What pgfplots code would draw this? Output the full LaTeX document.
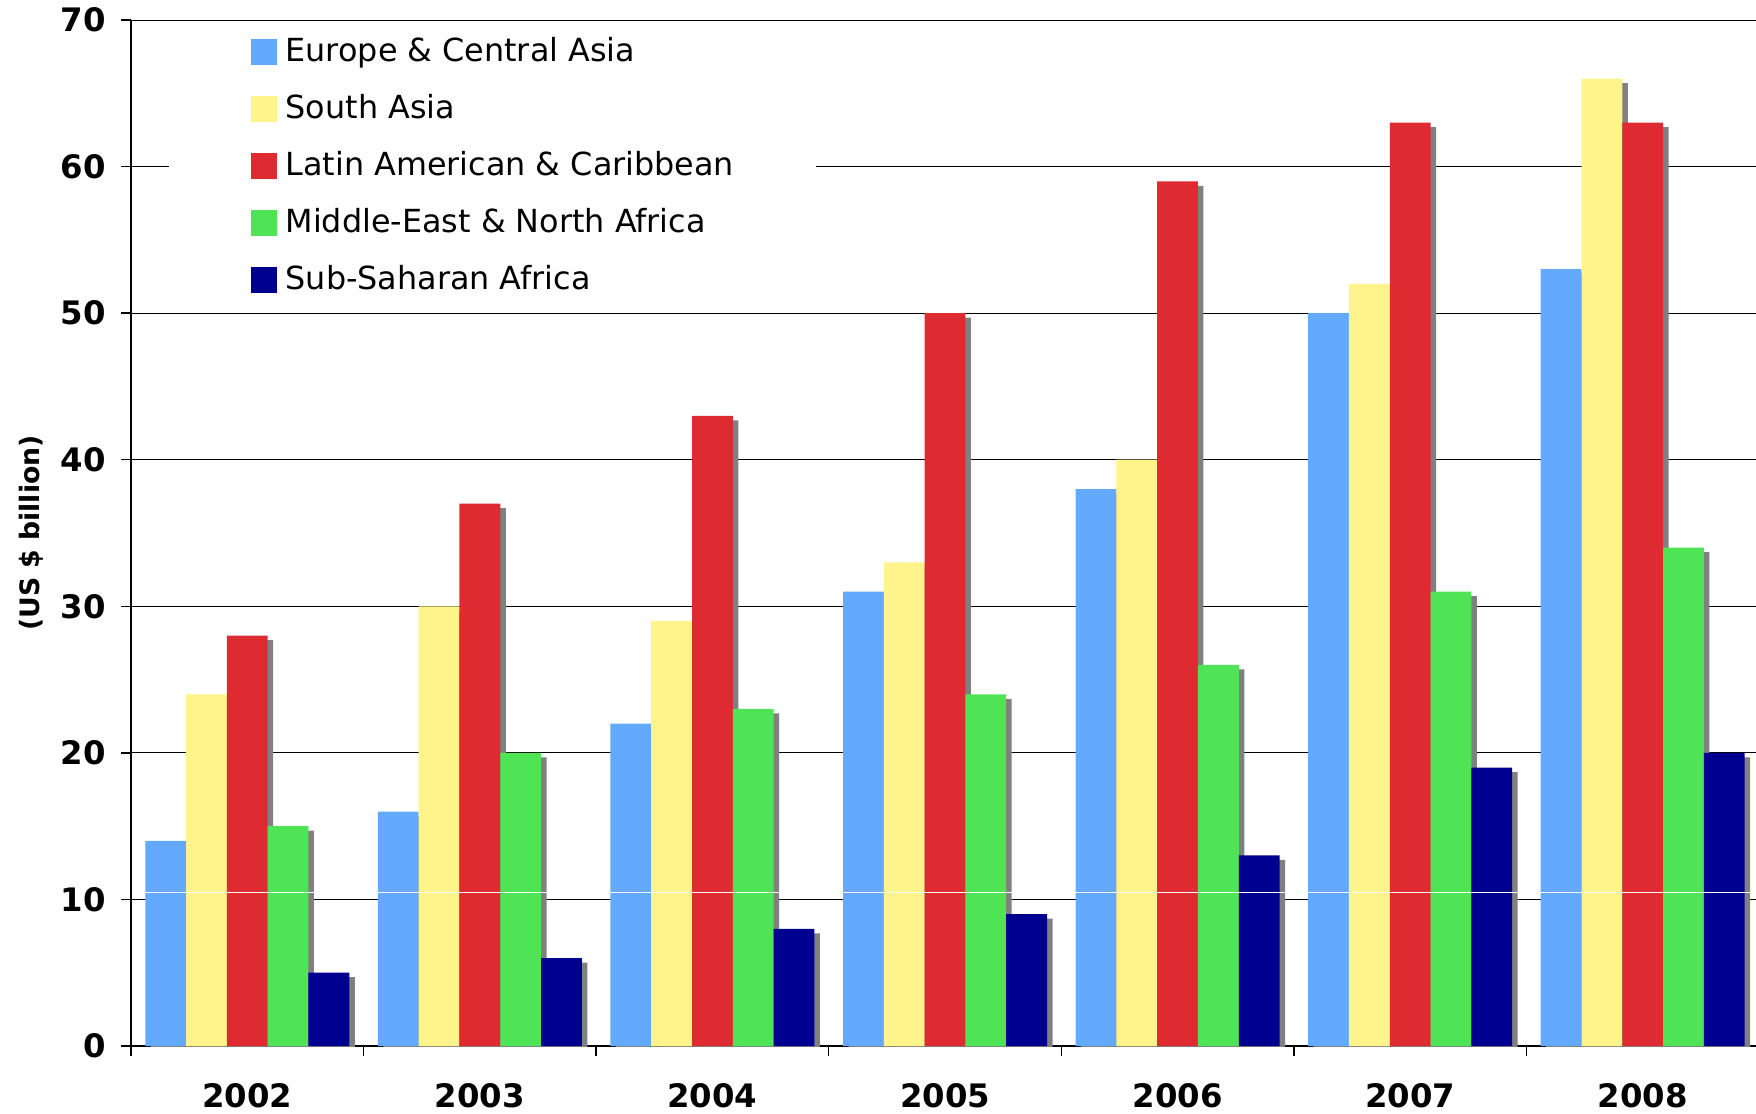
\documentclass[border=0pt]{standalone}
\usepackage{fontspec}
\setmainfont{DejaVu Sans}
\usepackage{pgfplots}
\pgfplotsset{compat=1.18}
\usepackage{pgfplotstable}

\definecolor{euca}{RGB}{99,170,255}
\definecolor{sasia}{RGB}{255,244,140}
\definecolor{latam}{RGB}{222,43,50}
\definecolor{mena}{RGB}{79,227,86}
\definecolor{ssa}{RGB}{0,0,144}
\definecolor{shade}{RGB}{128,128,128}

% US $ billion, by region
\pgfplotstableread{
x eca sa lac mena ssa
0 14 24 28 15 5
1 16 30 37 20 6
2 22 29 43 23 8
3 31 33 50 24 9
4 38 40 59 26 13
5 50 52 63 31 19
6 53 66 63 34 20
}\regions

\pgfplotsset{
  sqlegend/.style={legend image code/.code={\fill[##1] (0mm,-1.3mm) rectangle (2.6mm,1.3mm);}},
  regbar/.style 2 args={ybar, bar width=4.08mm, bar shift=#1, fill=#2, draw=none, sqlegend},
  shbar/.style={forget plot, ybar, bar width=4.08mm, bar shift=#1, fill=shade, draw=none, yshift=-0.45mm},
}

\begin{document}
\begin{tikzpicture}
\begin{axis}[
  scale only axis, width=162.8mm, height=102.6mm,
  xmin=-0.5, xmax=6.5, ymin=0, ymax=70,
  axis x line*=bottom, axis y line*=left, axis line style={-},
  x axis line style={black, line width=0.4pt},
  y axis line style={shade, line width=0.4pt},
  xtick={0,1,2,3,4,5,6},
  xticklabels={2002,2003,2004,2005,2006,2007,2008},
  minor xtick={-0.5,0.5,...,6.5},
  ytick={0,10,...,70},
  tick align=outside, major tick length=1mm, minor tick length=1mm,
  tick style={black, line width=0.4pt},
  major x tick style={draw=none},
  ymajorgrids, grid style={black, line width=0.3pt},
  /pgf/number format/assume math mode=true,
  tick label style={font=\bfseries\fontsize{9.2}{10}\selectfont},
  xticklabel style={yshift=-1.5mm},
  yticklabel style={xshift=-0.3mm},
  ylabel={(US \$ billion)},
  every axis y label/.style={at={(axis description cs:0,0.5)}, xshift=-10mm, rotate=90, anchor=center, font=\bfseries\fontsize{7.6}{9}\selectfont},
  legend style={at={(0,1)}, anchor=north west, xshift=3.7mm, yshift=-0.3mm,
    fill=white, draw=none, inner xsep=8.2mm, inner ysep=0pt,
    font=\fontsize{9.05}{10}\selectfont,
    nodes={inner sep=0pt, minimum height=5.7mm}, column sep=0.9mm, row sep=0pt},
  legend cell align=left,
]
\addplot[shbar=-7.61mm] table[x=x,y=eca]{\regions};
\addplot[shbar=-3.53mm] table[x=x,y=sa]{\regions};
\addplot[shbar=0.55mm] table[x=x,y=lac]{\regions};
\addplot[shbar=4.63mm] table[x=x,y=mena]{\regions};
\addplot[shbar=8.71mm] table[x=x,y=ssa]{\regions};

\addplot[regbar={-8.16mm}{euca}] table[x=x,y=eca]{\regions};
\addlegendentry{Europe \& Central Asia}
\addplot[regbar={-4.08mm}{sasia}] table[x=x,y=sa]{\regions};
\addlegendentry{South Asia}
\addplot[regbar={0mm}{latam}] table[x=x,y=lac]{\regions};
\addlegendentry{Latin American \& Caribbean}
\addplot[regbar={4.08mm}{mena}] table[x=x,y=mena]{\regions};
\addlegendentry{Middle-East \& North Africa}
\addplot[regbar={8.16mm}{ssa}] table[x=x,y=ssa]{\regions};
\addlegendentry{Sub-Saharan Africa}

\addplot[forget plot, white, line width=0.3pt] coordinates {(-0.45,10.48) (6.5,10.48)};
\addplot[forget plot, shade, line width=0.4pt] coordinates {(-0.5,70) (6.5,70)};
\end{axis}
\pgfresetboundingbox
\path (-13.1mm,-6.7mm) rectangle (162.5mm,104.6mm);
\end{tikzpicture}
\end{document}
